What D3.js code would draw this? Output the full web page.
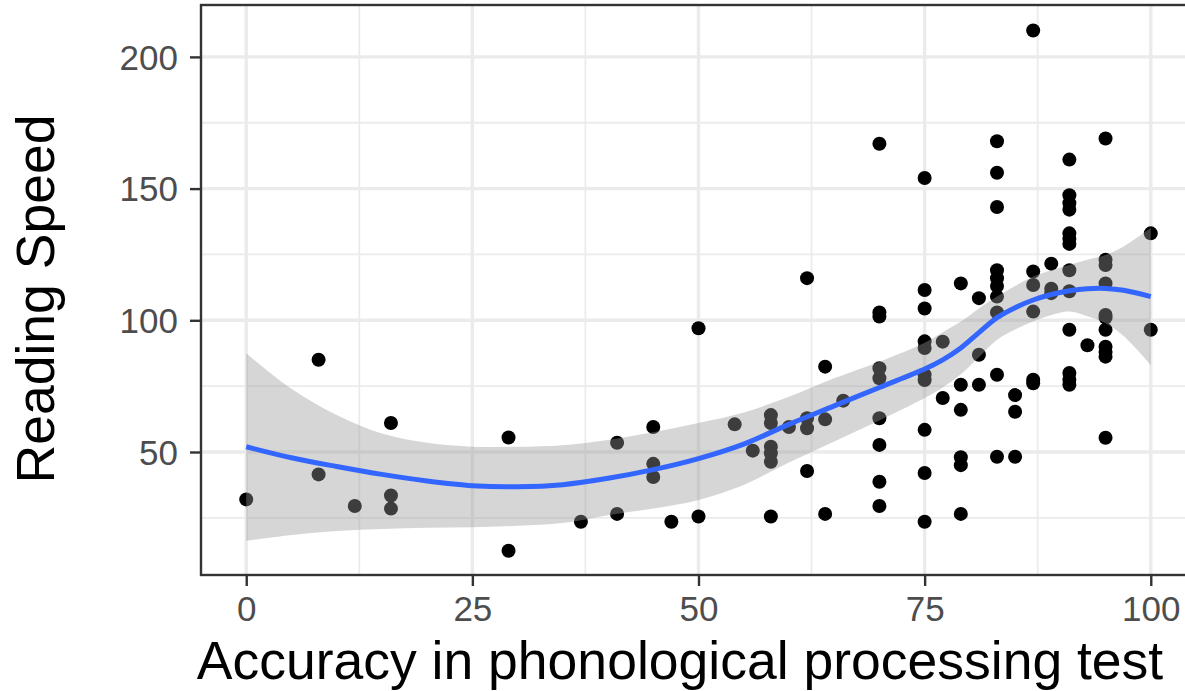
<!DOCTYPE html>
<html>
<head>
<meta charset="utf-8">
<script src="https://cdn.jsdelivr.net/npm/d3@7"></script>
<style>
    html, body { margin: 0; padding: 0; background: #ffffff; }
    svg { display: block; font-family: "Liberation Sans", Arial, sans-serif; }
</style>
</head>
<body>
<div id="chart"></div>
<script>
// Observed scores: accuracy (%) and reading speed
var accuracy = [0, 8, 8, 12, 16, 16, 16,
    29, 29, 37, 41, 41, 45, 45, 45, 47, 50, 50, 54, 56,
    58, 58, 58, 58, 58, 58, 60,
    62, 62, 62, 62, 64, 64, 64, 66,
    70, 70, 70, 70, 70, 70, 70, 70, 70,
    75, 75, 75, 75, 75, 75, 75, 75, 75, 75,
    77, 77,
    79, 79, 79, 79, 79, 79,
    81, 81, 81,
    83, 83, 83, 83, 83, 83, 83, 83, 83, 83,
    85, 85, 85,
    87, 87, 87, 87, 87, 87,
    89, 89, 89,
    91, 91, 91, 91, 91, 91, 91, 91, 91, 91, 91, 91, 91,
    93,
    95, 95, 95, 95, 95, 95, 95, 95, 95, 95, 95,
    100, 100];
var speed = [32, 85, 41.5, 29.5, 61, 33.5, 28.5,
    55.5, 12.5, 23.5, 53.5, 26.5, 59.5, 45.5, 40.5, 23.5, 97, 25.5, 60.5, 50.5,
    64, 61, 52, 49.5, 46.3, 25.5, 59.5,
    116, 62.8, 59, 42.8, 82.4, 62.4, 26.5, 69.5,
    167, 103, 101.4, 81.8, 78, 62.8, 52.7, 38.7, 29.5,
    154, 111.5, 104.5, 92, 89.5, 79.3, 77.3, 58.4, 42, 23.5,
    91.9, 70.5,
    114, 75.5, 66, 48, 45, 26.5,
    108.4, 86.9, 75.5,
    168, 156, 143, 119, 116, 113, 109, 103, 79.3, 48.2,
    71.6, 65.3, 48.2,
    210, 118.5, 113.4, 103.3, 77.4, 76.1,
    121.5, 112, 110.3,
    161, 147.5, 144.5, 142, 133, 131, 129, 119, 111, 96.4, 80, 77.4, 75.5,
    90.5,
    169, 123, 121, 114, 102, 101, 96.4, 90, 88, 86.2, 55.4,
    133, 96.4];

// Loess fit and its confidence band
var fitX = [0, 5, 10, 15, 20, 25, 30, 35, 40, 45, 50, 55, 60, 65, 70, 75, 77, 79, 81, 83, 85, 87, 89, 91, 93, 95, 97, 100];
var fitY = [52, 47.8, 44.5, 41.5, 39, 37.2, 36.8, 37.6, 40, 43.3, 47.5, 53, 60.5, 67.5, 74.5, 81.5, 85, 89.5, 95.3, 101, 104.8, 107.7, 109.8, 111.2, 112, 112.1, 111.4, 109];
var fitLo = [16.3, 18.5, 20, 20.8, 21.2, 21.4, 22, 23, 26, 28.5, 31.8, 37.5, 46, 54, 62, 70.5, 74.5, 79.5, 86, 92.6, 96.5, 99.5, 102, 103.3, 101.5, 98.9, 94, 83];
var fitHi = [87.5, 74, 64, 57, 53.5, 52, 52, 52.6, 54.6, 57.5, 61, 65, 71, 78, 84.3, 91.5, 95.5, 99.5, 104.5, 109, 113, 116.6, 119, 121, 123, 124.8, 128, 135];

// Axis ticks and limits
var xMajor = [0, 25, 50, 75, 100];
var xMinor = [12.5, 37.5, 62.5, 87.5];
var yMajor = [50, 100, 150, 200];
var yMinor = [25, 75, 125, 175];
var xLimits = [-5, 105];
var yLimits = [3.3, 219.7];

var xTitle = 'Accuracy in phonological processing test';
var yTitle = 'Reading Speed';

/**** CHART DRAWING ****/

var width = 1185,
    height = 691;
var panel = {left: 201, right: 1196, top: 5, bottom: 575};

var x = d3.scaleLinear().domain(xLimits).range([panel.left, panel.right]);
var y = d3.scaleLinear().domain(yLimits).range([panel.bottom, panel.top]);

var svg = d3.select('#chart')
    .append('svg')
    .attr('width', width)
    .attr('height', height);

svg.append('rect')
    .attr('width', width)
    .attr('height', height)
    .attr('fill', '#ffffff');

// Grid lines
var grid = svg.append('g').attr('class', 'grid');
grid.selectAll('.vminor').data(xMinor).enter().append('line')
    .attr('x1', d => x(d)).attr('x2', d => x(d))
    .attr('y1', panel.top).attr('y2', panel.bottom)
    .attr('stroke', '#EBEBEB').attr('stroke-width', 1.8);
grid.selectAll('.hminor').data(yMinor).enter().append('line')
    .attr('x1', panel.left).attr('x2', panel.right)
    .attr('y1', d => y(d)).attr('y2', d => y(d))
    .attr('stroke', '#EBEBEB').attr('stroke-width', 1.8);
grid.selectAll('.vmajor').data(xMajor).enter().append('line')
    .attr('x1', d => x(d)).attr('x2', d => x(d))
    .attr('y1', panel.top).attr('y2', panel.bottom)
    .attr('stroke', '#EBEBEB').attr('stroke-width', 3.4);
grid.selectAll('.hmajor').data(yMajor).enter().append('line')
    .attr('x1', panel.left).attr('x2', panel.right)
    .attr('y1', d => y(d)).attr('y2', d => y(d))
    .attr('stroke', '#EBEBEB').attr('stroke-width', 3.4);

// Points (drawn under the band, so they turn grey inside it)
svg.append('g')
    .selectAll('circle')
    .data(accuracy.map((a, i) => ({a: a, s: speed[i]})))
    .enter()
    .append('circle')
    .attr('cx', d => x(d.a))
    .attr('cy', d => y(d.s))
    .attr('r', 7)
    .attr('fill', '#000000');

// Confidence band
var fit = fitX.map((v, i) => ({x: v, y: fitY[i], lo: fitLo[i], hi: fitHi[i]}));
var band = d3.area()
    .curve(d3.curveCatmullRom.alpha(0.5))
    .x(d => x(d.x))
    .y0(d => y(d.lo))
    .y1(d => y(d.hi));
svg.append('path')
    .attr('d', band(fit))
    .attr('fill', '#999999')
    .attr('fill-opacity', 0.4);

// Fitted line
var line = d3.line()
    .curve(d3.curveCatmullRom.alpha(0.5))
    .x(d => x(d.x))
    .y(d => y(d.y));
svg.append('path')
    .attr('d', line(fit))
    .attr('fill', 'none')
    .attr('stroke', '#3366FF')
    .attr('stroke-width', 5);

// Panel border
svg.append('rect')
    .attr('x', panel.left)
    .attr('y', panel.top)
    .attr('width', panel.right - panel.left)
    .attr('height', panel.bottom - panel.top)
    .attr('fill', 'none')
    .attr('stroke', '#333333')
    .attr('stroke-width', 2.4);

// Axes
var xAxis = d3.axisBottom(x).tickValues(xMajor).tickSize(11).tickPadding(10);
var gx = svg.append('g')
    .attr('transform', 'translate(0,' + panel.bottom + ')')
    .call(xAxis);
var yAxis = d3.axisLeft(y).tickValues(yMajor).tickSize(11).tickPadding(12);
var gy = svg.append('g')
    .attr('transform', 'translate(' + panel.left + ',0)')
    .call(yAxis);

[gx, gy].forEach(function(g) {
    g.select('.domain').remove();
    g.selectAll('.tick line').attr('stroke', '#333333').attr('stroke-width', 2.4);
    g.selectAll('.tick text')
        .attr('fill', '#4D4D4D')
        .style('font-size', '35px')
        .style('font-family', '"Liberation Sans", Arial, sans-serif');
});
gx.selectAll('.tick text').attr('dy', '0.71em');
gy.selectAll('.tick text').attr('dy', '0.35em');

// Axis titles
svg.append('text')
    .attr('x', 680)
    .attr('y', 679)
    .attr('text-anchor', 'middle')
    .attr('fill', '#000000')
    .style('font-size', '53.5px')
    .text(xTitle);

svg.append('text')
    .attr('transform', 'translate(54,' + 299 + ') rotate(-90)')
    .attr('text-anchor', 'middle')
    .attr('fill', '#000000')
    .style('font-size', '53.5px')
    .text(yTitle);
</script>
</body>
</html>
